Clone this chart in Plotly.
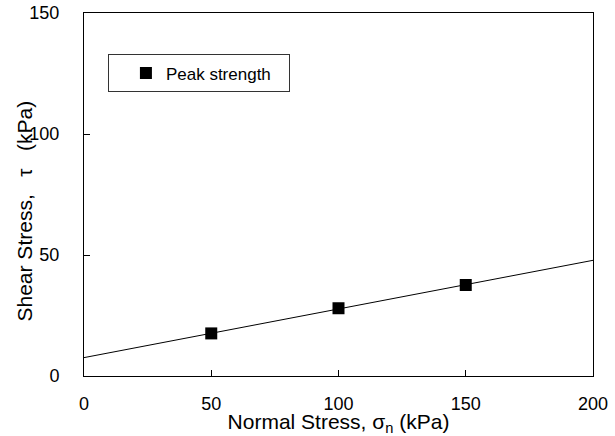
import plotly.graph_objects as go

normal_stress = [50, 100, 150]
peak_shear = [17.6, 28.0, 37.6]
fit_x = [0, 200]
fit_y = [7.6, 47.8]
x_ticks = [0, 50, 100, 150, 200]
y_ticks = [0, 50, 100, 150]

FONT = "Liberation Sans, Arial, sans-serif"
NB = "\u00a0"

fig = go.Figure()
fig.add_trace(go.Scatter(x=fit_x, y=fit_y, mode="lines",
                         line=dict(color="black", width=1), showlegend=False,
                         hoverinfo="skip"))
fig.add_trace(go.Scatter(x=normal_stress, y=peak_shear, mode="markers",
                         name="Peak strength",
                         marker=dict(symbol="square", size=12, color="black")))

fig.update_layout(
    width=615, height=436,
    margin=dict(l=84, r=22, t=13, b=60, autoexpand=False),
    paper_bgcolor="white", plot_bgcolor="white",
    font=dict(family=FONT, size=18, color="black"),
    legend=dict(x=0.047, y=0.886, xanchor="left", yanchor="top",
                orientation="h",
                bordercolor="#333", borderwidth=1, bgcolor="white",
                font=dict(size=17, family=FONT), indentation=17,
                entrywidth=118, entrywidthmode="pixels", itemsizing="constant"),
    xaxis=dict(range=[0, 200], tickvals=x_ticks, ticks="inside", ticklen=6,
               tickcolor="black", showline=True, linecolor="black", linewidth=1,
               mirror=True, showgrid=False, zeroline=False, automargin=False,
               ticklabelstandoff=11, tickfont=dict(size=18),
               title=dict(text="Normal Stress, σ<sub>n</sub> (kPa)", standoff=5,
                          font=dict(size=21))),
    yaxis=dict(range=[0, 150], tickvals=y_ticks, ticks="inside", ticklen=6,
               tickcolor="black", showline=True, linecolor="black", linewidth=1,
               mirror=True, showgrid=False, zeroline=False, automargin=False,
               ticklabelstandoff=20, tickfont=dict(size=18)),
    annotations=[dict(text="Shear Stress," + NB * 3 + "τ" + NB * 3 + "(kPa)",
                      textangle=-90, xref="paper", yref="paper",
                      x=0, y=0.5, xanchor="center", yanchor="middle",
                      xshift=-60, yshift=-17, showarrow=False,
                      font=dict(size=21, family=FONT))],
)
fig.write_html("out.html")
